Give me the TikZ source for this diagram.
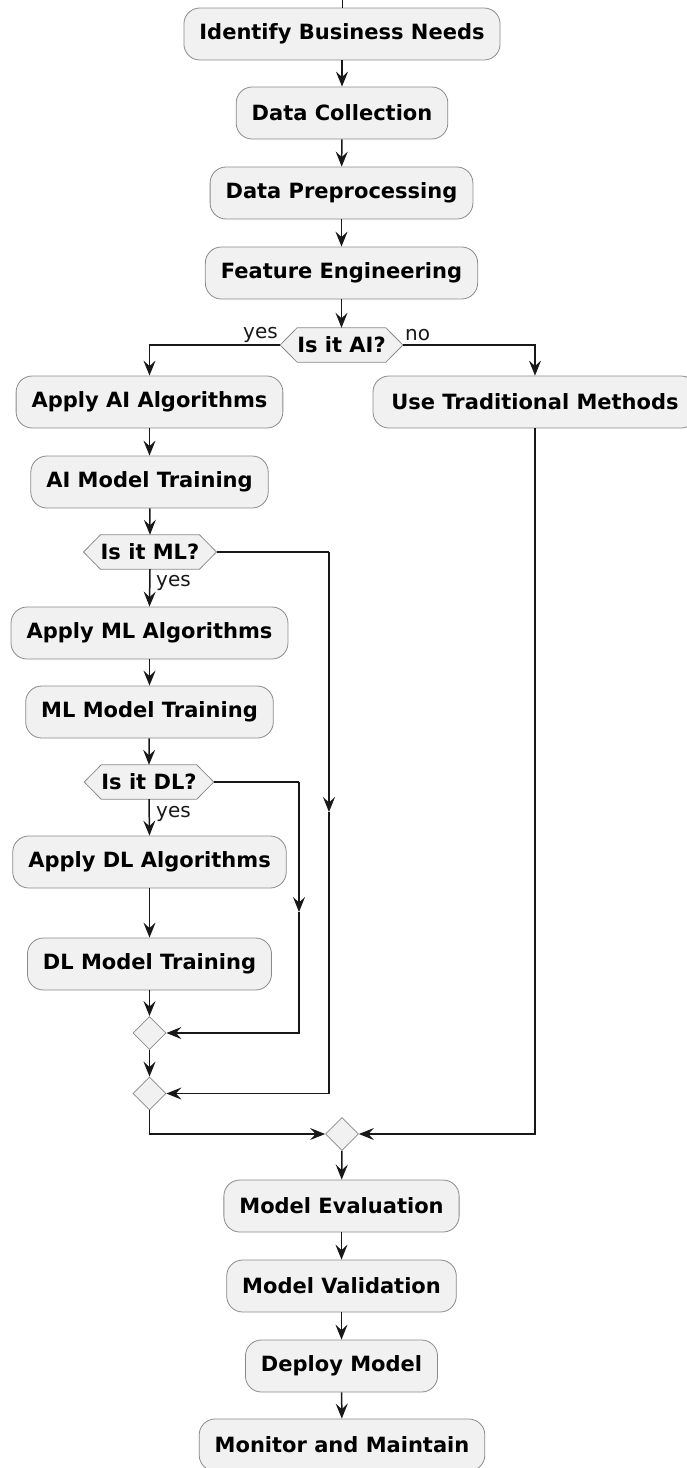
\documentclass[tikz,border=0pt]{standalone}
\usepackage{fontspec}
\setmainfont{DejaVu Sans}
\usetikzlibrary{arrows.meta,shapes.geometric,backgrounds}
\definecolor{boxfill}{HTML}{F1F1F1}
\definecolor{linec}{HTML}{181818}
\definecolor{boxline}{HTML}{8A8A8A}
\tikzset{
  act/.style={rectangle, rounded corners=16pt, draw=boxline, fill=boxfill, line width=0.8pt,
    minimum height=52pt, inner xsep=15.5pt, inner ysep=0pt, font=\fontsize{21}{24}\selectfont\bfseries},
  hexnode/.style={rectangle, inner xsep=0pt, inner ysep=0pt, minimum height=34pt,
    font=\fontsize{21}{24}\selectfont\bfseries},
  hexdraw/.style={draw=boxline, fill=boxfill, line width=0.8pt},
  merge/.style={diamond, aspect=1, minimum size=33pt, inner sep=0pt, draw=boxline, fill=boxfill, line width=0.8pt},
  conn/.style={draw=linec, line width=1.5pt},
  arr/.style={conn, -{Stealth[length=15pt,width=12pt,inset=5.5pt]}},
  lbl/.style={font=\fontsize{20}{22}\selectfont, inner sep=0pt, text=linec},
}
\begin{document}
\begin{tikzpicture}[x=1pt,y=-1pt]
\useasboundingbox (0,0) rectangle (686,1468);
% activity nodes
\node[act] (n1) at (342,34) {Identify Business Needs};
\node[act] (n2) at (342,113) {Data Collection};
\node[act] (n3) at (341.5,193) {Data Preprocessing};
\node[act] (n4) at (341.5,273) {Feature Engineering};
\node[hexnode] (ai) at (341.5,345) {Is it AI?};
\node[act] (n5) at (149.5,402) {Apply AI Algorithms};
\node[act, minimum width=324pt] (n6) at (535,402) {Use Traditional Methods};
\node[act] (n7) at (149.5,482) {AI Model Training};
\node[hexnode] (ml) at (150,552) {Is it ML?};
\node[act] (n8) at (149.5,633) {Apply ML Algorithms};
\node[act] (n9) at (149.5,712) {ML Model Training};
\node[hexnode] (dl) at (149,782) {Is it DL?};
\node[act] (n10) at (149.5,862) {Apply DL Algorithms};
\node[act] (n11) at (149.5,964) {DL Model Training};
\node[merge] (m1) at (149.5,1033) {};
\node[merge] (m2) at (149.5,1093.5) {};
\node[merge] (m3) at (342,1134) {};
\node[act] (n12) at (341.5,1206) {Model Evaluation};
\node[act] (n13) at (341.5,1286) {Model Validation};
\node[act] (n14) at (341.5,1366) {Deploy Model};
\node[act] (n15) at (342,1445) {Monitor and Maintain};
% hexagon tips
\foreach \h in {ai,ml,dl}{
  \coordinate (\h-l) at ([xshift=-17pt]\h.west);
  \coordinate (\h-r) at ([xshift=17pt]\h.east);
}
\begin{scope}[on background layer]
\foreach \h in {ai,ml,dl}{
  \path[hexdraw] (\h-l) -- (\h.north west) -- (\h.north east) -- (\h-r) -- (\h.south east) -- (\h.south west) -- cycle;
}
\end{scope}
% connectors
\coordinate (start) at (342,0);
\draw[conn, line width=1pt] (start) -- (n1.north);
\draw[arr] (n1) -- (n2);
\draw[arr] (n2) -- (n3);
\draw[arr] (n3) -- (n4);
\draw[arr] (n4) -- (ai);
\draw[arr] (ai-l) -| (n5.north);
\draw[arr] (ai-r) -| (n6.north);
\node[lbl, anchor=base east] (yes1) at (278,338) {yes};
\node[lbl, anchor=base west] (no1) at (405,340) {no};
\draw[arr] (n5) -- (n7);
\draw[arr] (n7) -- (ml.north);
\draw[arr] (ml.south) -- (n8.north);
\node[lbl, anchor=base west] (yes2) at (156,586) {yes};
\draw[arr] (n8) -- (n9);
\draw[arr] (n9) -- (dl.north);
\draw[arr] (dl.south) -- (n10.north);
\node[lbl, anchor=base west] (yes3) at (156,817) {yes};
\draw[arr] (n10) -- (n11);
\draw[arr] (n11) -- (m1);
\draw[arr] (m1) -- (m2);
% DL no-branch
\coordinate (dlc1) at (299,782);
\coordinate (dlmid) at (299,912);
\coordinate (dlc2) at (299,1033);
\draw[conn] (dl-r) -- (dlc1);
\draw[arr] (dlc1) -- (dlmid);
\draw[arr] (dlmid) -- (dlc2) -- (m1.east);
% ML no-branch
\coordinate (mlc1) at (329,552);
\coordinate (mlmid) at (329,812);
\coordinate (mlc2) at (329,1093.5);
\draw[conn] (ml-r) -- (mlc1);
\draw[arr] (mlc1) -- (mlmid);
\draw[arr] (mlmid) -- (mlc2) -- (m2.east);
% to final merge
\draw[arr] (m2.south) |- (m3.west);
\draw[arr] (n6.south) |- (m3.east);
\draw[arr] (m3) -- (n12);
\draw[arr] (n12) -- (n13);
\draw[arr] (n13) -- (n14);
\draw[arr] (n14) -- (n15);
\end{tikzpicture}
\end{document}
